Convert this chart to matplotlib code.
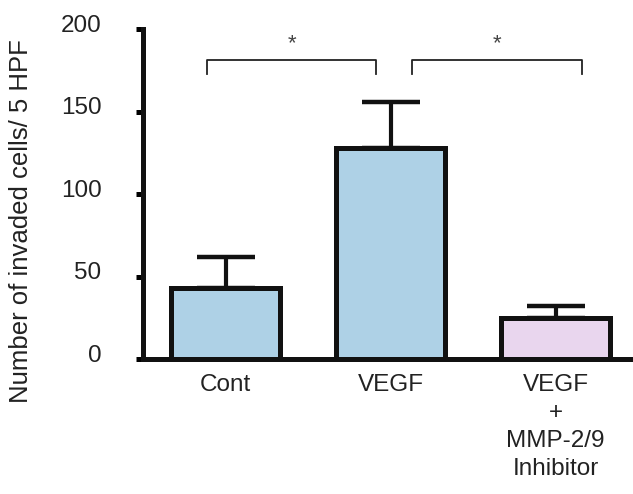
import numpy as np
import matplotlib
matplotlib.use('Agg')
import matplotlib.pyplot as plt
from matplotlib.transforms import ScaledTranslation

plt.rcParams['font.family'] = ['Liberation Sans', 'DejaVu Sans']

groups = ['Cont', 'VEGF', 'VEGF\n+\nMMP-2/9\nInhibitor']
means = [43, 128, 25]
sems = [19, 28, 7]
bar_colors = ['#aed1e6', '#aed1e6', '#e9d6ee']
# significance brackets: (x start, x end, label)
brackets = [(-0.11, 0.91, '*'), (1.13, 2.16, '*')]
bracket_y = 181
bracket_drop = 8

fig = plt.figure(figsize=(6.33, 4.94), dpi=100)
ax = fig.add_axes([0.226, 0.273, 0.782, 0.668])

x = np.arange(len(groups))
ax.errorbar(x, means, yerr=[np.zeros(len(sems)), sems], fmt='none',
            ecolor='#111111', elinewidth=3, capsize=21, capthick=3.2, zorder=1)
ax.bar(x, means, width=0.66, color=bar_colors, edgecolor='#111111',
       linewidth=3.6, zorder=2)

for x0, x1, lab in brackets:
    ax.plot([x0, x0, x1, x1],
            [bracket_y - bracket_drop, bracket_y, bracket_y, bracket_y - bracket_drop],
            color='#222222', lw=1.3, clip_on=False)
    ax.text((x0 + x1) / 2, 191, lab, ha='center', va='center',
            fontsize=16, color='#444444')

ax.set_xlim(-0.5, 2.5)
ax.set_ylim(0, 200)
ax.set_yticks([0, 50, 100, 150, 200])
ax.set_xticks(x)
ax.set_xticklabels(groups, fontsize=17.5, color='#222222', linespacing=1.35)
ax.tick_params(axis='x', length=0, pad=11)
ax.tick_params(axis='y', direction='out', length=5, width=3.6, pad=25,
               labelsize=17.5, labelcolor='#222222')
for lbl in ax.get_yticklabels():
    lbl.set_transform(lbl.get_transform() + ScaledTranslation(0, 0.06, fig.dpi_scale_trans))

for s in ['top', 'right']:
    ax.spines[s].set_visible(False)
for s in ['left', 'bottom']:
    ax.spines[s].set_linewidth(3.6)
    ax.spines[s].set_color('#111111')

ax.set_ylabel('Number of invaded cells/ 5 HPF', fontsize=18.5, color='#222222')
ax.yaxis.set_label_coords(-0.222, 0.418)

fig.savefig('out.png', dpi=100)
